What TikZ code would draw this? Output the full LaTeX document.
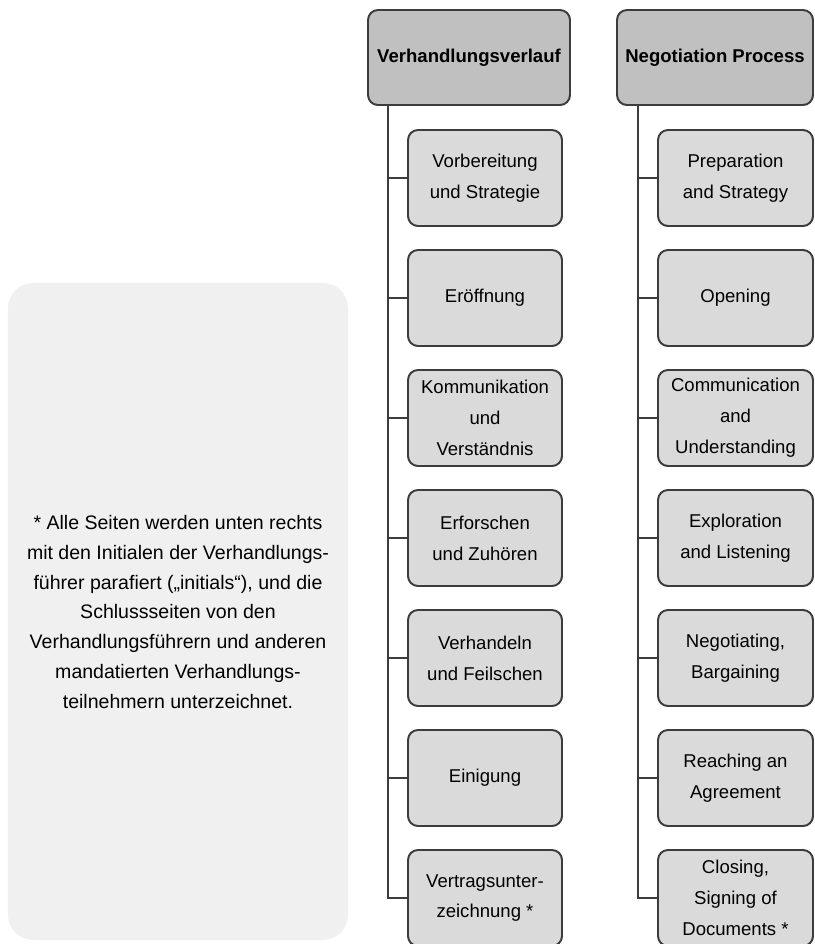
\documentclass[tikz,border=0pt]{standalone}
\usepackage{fontspec}
\setmainfont{Liberation Sans}
\definecolor{headgray}{RGB}{192,192,192}
\definecolor{stepgray}{RGB}{218,218,218}
\definecolor{panelgray}{RGB}{240,240,240}
\definecolor{linegray}{RGB}{60,60,60}

\begin{document}
\begin{tikzpicture}
                \tikzstyle{head}=[draw=linegray, line width=1.4pt, fill=headgray, rounded corners=0.25cm, minimum height=2.375cm, inner sep=0pt, font=\bfseries\fontsize{13.2}{22}\selectfont]
                \tikzstyle{stepbox}=[draw=linegray, line width=1.4pt, fill=stepgray, rounded corners=0.25cm, minimum height=2.4cm, inner sep=0pt, align=center, font=\fontsize{13.2}{22}\selectfont]
                \tikzstyle{conn}=[draw=linegray, line width=1.4pt]

                \useasboundingbox (0,0) rectangle (20.375,-23.6);

                % note panel on the left
                \fill[panelgray, rounded corners=0.625cm] (0.2,-7.075) rectangle (8.7,-23.5);
                \node[align=center, font=\fontsize{13.9}{21.3}\selectfont] (note) at (4.45,-15.3)
                    {* Alle Seiten werden unten rechts\\mit den Initialen der Verhandlungs-\\führer parafiert („initials“), und die\\Schlussseiten von den\\Verhandlungsführern und anderen\\mandatierten Verhandlungs-\\teilnehmern unterzeichnet.};

                % german column
                \node[head, minimum width=5.05cm] (vh) at (11.725,-1.4375) {Verhandlungsverlauf};
                \node[stepbox, minimum width=3.85cm] (v1) at (12.125,-4.45) {Vorbereitung\\und Strategie};
                \node[stepbox, minimum width=3.85cm] (v2) at (12.125,-7.45) {Eröffnung};
                \node[stepbox, minimum width=3.85cm] (v3) at (12.125,-10.45) {Kommunikation\\und\\Verständnis};
                \node[stepbox, minimum width=3.85cm] (v4) at (12.125,-13.45) {Erforschen\\und Zuhören};
                \node[stepbox, minimum width=3.85cm] (v5) at (12.125,-16.45) {Verhandeln\\und Feilschen};
                \node[stepbox, minimum width=3.85cm] (v6) at (12.125,-19.45) {Einigung};
                \node[stepbox, minimum width=3.85cm] (v7) at (12.125,-22.45) {Vertragsunter-\\zeichnung *};

                % english column
                \node[head, minimum width=4.9cm] (nh) at (17.875,-1.4375) {Negotiation Process};
                \node[stepbox, minimum width=3.875cm] (n1) at (18.3875,-4.45) {Preparation\\and Strategy};
                \node[stepbox, minimum width=3.875cm] (n2) at (18.3875,-7.45) {Opening};
                \node[stepbox, minimum width=3.875cm] (n3) at (18.3875,-10.45) {Communication\\and\\Understanding};
                \node[stepbox, minimum width=3.875cm] (n4) at (18.3875,-13.45) {Exploration\\and Listening};
                \node[stepbox, minimum width=3.875cm] (n5) at (18.3875,-16.45) {Negotiating,\\Bargaining};
                \node[stepbox, minimum width=3.875cm] (n6) at (18.3875,-19.45) {Reaching an\\Agreement};
                \node[stepbox, minimum width=3.875cm] (n7) at (18.3875,-22.45) {Closing,\\Signing of\\Documents *};

                \coordinate (vt) at (9.7,0);
                \coordinate (nt) at (15.95,0);

                % trunks and branches
                \draw[conn] (vh.south -| vt) |- (v7.west);
                \draw[conn] (nh.south -| nt) |- (n7.west);
                \foreach \i in {1,...,6} {
                    \draw[conn] (v\i.west -| vt) -- (v\i.west);
                    \draw[conn] (n\i.west -| nt) -- (n\i.west);
                }
            \end{tikzpicture}
\end{document}
